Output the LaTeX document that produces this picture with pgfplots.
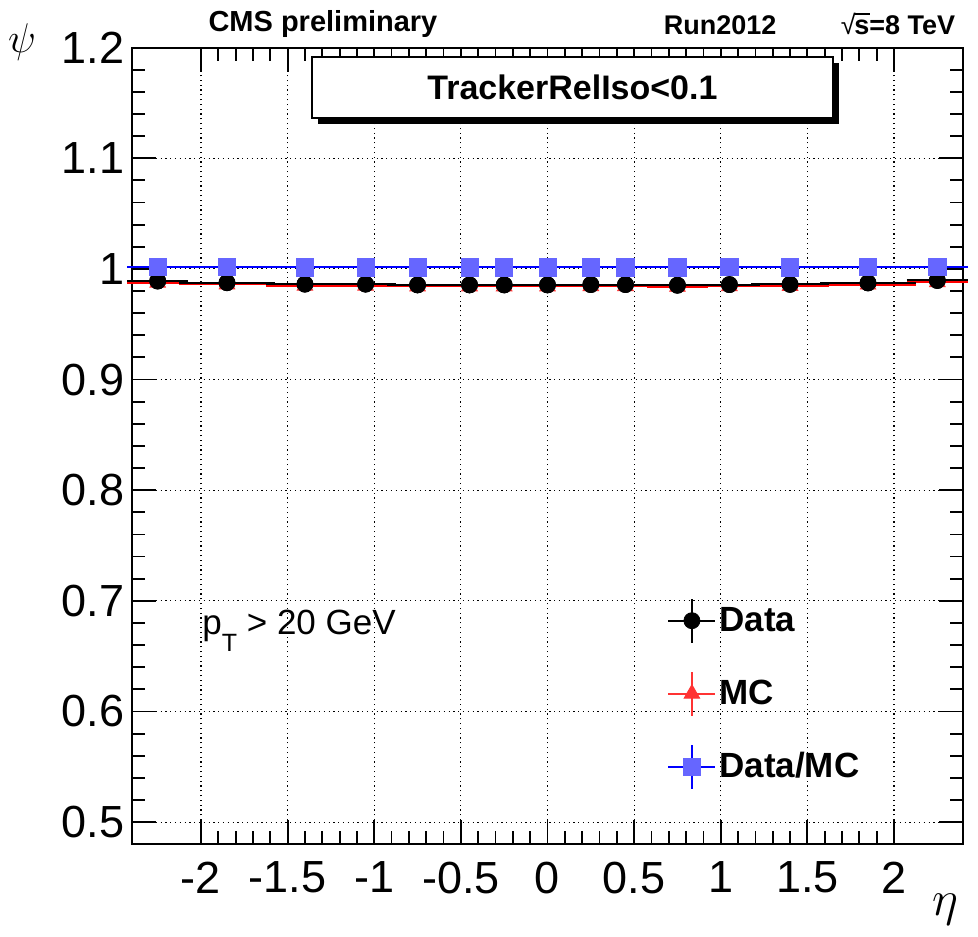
\documentclass[border=0pt]{standalone}
\usepackage{fontspec}
\setmainfont{Liberation Sans}
\usepackage{pgfplots}
\usepackage{pgfplotstable}
\pgfplotsset{compat=1.18}

\definecolor{ratioblue}{HTML}{6666FF}
\definecolor{mcred}{HTML}{FF3333}

% eta bins: centre, half width, Data, MC, Data/MC
\pgfplotstableread{
x     ex    data    mc      ratio
-2.25 0.15  0.9890  0.9875  1.0015
-1.85 0.25  0.9875  0.9860  1.0015
-1.40 0.20  0.9862  0.9848  1.0014
-1.05 0.15  0.9862  0.9848  1.0014
-0.75 0.15  0.9855  0.9841  1.0014
-0.45 0.15  0.9855  0.9842  1.0013
-0.25 0.05  0.9855  0.9842  1.0013
0.00  0.20  0.9855  0.9841  1.0014
0.25  0.05  0.9858  0.9844  1.0014
0.45  0.15  0.9858  0.9844  1.0014
0.75  0.15  0.9852  0.9838  1.0014
1.05  0.15  0.9858  0.9843  1.0015
1.40  0.20  0.9860  0.9846  1.0014
1.85  0.25  0.9873  0.9858  1.0015
2.25  0.15  0.9895  0.9880  1.0015
}\eff

\begin{document}
\begin{tikzpicture}
\begin{axis}[
    scale only axis,
    width=415.8pt, height=398.35pt,
    xmin=-2.4, xmax=2.4, ymin=0.48, ymax=1.2,
    xtick={-2,-1.5,-1,-0.5,0,0.5,1,1.5,2},
    ytick={0.5,0.6,0.7,0.8,0.9,1,1.1,1.2},
    minor x tick num=4, minor y tick num=4,
    tick align=inside,
    major tick length=12pt, minor tick length=6.5pt,
    every tick/.style={black, line width=0.9pt},
    axis line style={line width=1pt},
    grid=major,
    major grid style={black, line width=0.6pt, dash pattern=on 0.6pt off 1.8pt},
    scaled ticks=false,
    /pgf/number format/assume math mode=true,
    tick label style={font=\fontsize{22.5}{22.5}\selectfont},
    xticklabel style={inner sep=0pt, yshift=-8.5pt},
    yticklabel style={inner sep=0pt, xshift=-3.4pt},
    clip=false,
    legend image code/.code={
        \draw[line width=1pt] (0pt,0pt) -- (23.5pt,0pt);
        \draw[line width=1pt] (11.75pt,-11pt) -- (11.75pt,11pt);
        \draw plot coordinates {(11.75pt,0pt)};
    },
    legend cell align=left,
    legend style={draw=none, fill=none, inner sep=0pt,
        at={(rel axis cs:0.6437,0.31)}, anchor=north west,
        font=\bfseries\fontsize{17.5}{17.5}\selectfont,
        row sep=13.5pt,
        nodes={inner sep=1.5pt}},
]
\addplot[black, only marks, mark=*, mark size=4pt,
    error bars/.cd, x dir=both, x explicit,
    error bar style={line width=1pt},
    error mark options={mark size=2.2pt, line width=1pt}]
    table[x=x, y=data, x error=ex] {\eff};
\addlegendentry{Data}
\addplot[mcred, only marks, mark=triangle*, mark size=4.5pt,
    error bars/.cd, x dir=both, x explicit,
    error bar style={line width=1pt, red},
    error mark options={mark size=2.2pt, line width=1pt, red}]
    table[x=x, y=mc, x error=ex] {\eff};
\addlegendentry{MC}
\addplot[black, only marks, mark=*, mark size=4pt, forget plot,
    error bars/.cd, x dir=both, x explicit,
    error bar style={line width=1pt},
    error mark options={mark size=2.2pt, line width=1pt}]
    table[x=x, y=data, x error=ex] {\eff};
\addplot[blue, only marks, mark=square*, mark size=4.3pt,
    mark options={fill=ratioblue, draw=ratioblue},
    error bars/.cd, x dir=both, x explicit,
    error bar style={line width=1pt, blue},
    error mark options={mark size=2.2pt, line width=1pt, blue}]
    table[x=x, y=ratio, x error=ex] {\eff};
\addlegendentry{Data/MC}

% title box with shadow
\fill[black] (axis cs:-1.324,1.1861) rectangle (axis cs:1.683,1.1310);
\draw[fill=white, line width=1pt] (axis cs:-1.359,1.1915) rectangle (axis cs:1.648,1.1364);
\node[font=\bfseries\fontsize{17}{17}\selectfont] at (axis cs:0.144,1.164) {TrackerRelIso<0.1};

\node[anchor=base west, inner sep=0pt, font=\fontsize{17.5}{17.5}\selectfont]
    at (axis cs:-1.994,0.6694) {p\raisebox{-8.5pt}{\fontsize{12.5}{12.5}\selectfont T} > 20 GeV};

\node[anchor=base, font=\bfseries\fontsize{14.5}{14.5}\selectfont] at (axis cs:-1.296,1.2141) {CMS preliminary};
\node[anchor=base, font=\bfseries\fontsize{13.5}{13.5}\selectfont] at (axis cs:0.996,1.2114) {Run2012};
\node[anchor=base, inner sep=0pt, font=\bfseries\fontsize{13.5}{13.5}\selectfont] at (axis cs:2.023,1.2118)
    {{\mdseries √}\kern-0.6pt\rlap{\rule[0.74em]{0.58em}{0.07em}}s=8 TeV};

\node[font=\fontsize{22}{22}\selectfont] at (axis cs:-3.033,1.205) {$\psi$};
\node[font=\fontsize{26}{26}\selectfont] at (axis cs:2.294,0.421) {$\eta$};

\coordinate (tl) at (axis cs:-3.1602,1.2430);
\coordinate (br) at (axis cs:2.4848,0.3966);
\end{axis}
\pgfresetboundingbox
\path[use as bounding box] (tl) rectangle (br);
\end{tikzpicture}
\end{document}
